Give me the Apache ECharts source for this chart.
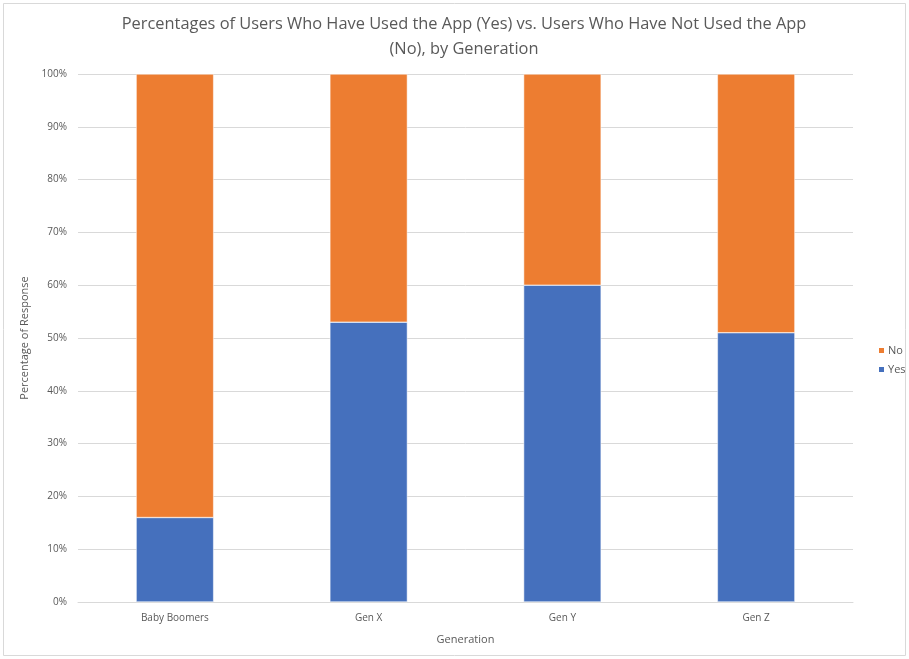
<!DOCTYPE html>
<html>
<head>
<meta charset="utf-8">
<script src="https://cdn.jsdelivr.net/npm/echarts@6/dist/echarts.min.js"></script>
<style>
  html, body { margin: 0; padding: 0; background: #fff; }
  #chart { width: 909px; height: 659px; }
</style>
</head>
<body>
<div id="chart"></div>
<script>
// Survey results: share of respondents per generation
const generations = ['Baby Boomers', 'Gen X', 'Gen Y', 'Gen Z'];
const yesValues = [16, 53, 60, 51];
const noValues = [84, 47, 40, 49];
const yTicks = [0, 10, 20, 30, 40, 50, 60, 70, 80, 90, 100];

const textColor = '#595959';
const fontFamily = 'Open Sans, Liberation Sans, sans-serif';

const chart = echarts.init(document.getElementById('chart'), null, { renderer: 'canvas' });

chart.setOption({
  backgroundColor: '#fff',
  animation: false,
  textStyle: { fontFamily: fontFamily },
  title: {
    text: 'Percentages of Users Who Have Used the App (Yes) vs. Users Who Have Not Used the App\n(No), by Generation',
    left: 459,
    top: 7,
    textAlign: 'center',
    textStyle: {
      color: textColor,
      fontSize: 16.4,
      fontWeight: 'normal',
      lineHeight: 25,
      fontFamily: fontFamily
    }
  },
  legend: {
    orient: 'vertical',
    left: 872,
    top: 340,
    itemWidth: 7,
    itemHeight: 7,
    itemGap: 8,
    icon: 'rect',
    data: ['No', 'Yes'],
    textStyle: { color: textColor, fontSize: 11, padding: [0, 0, 0, -2] }
  },
  grid: {
    left: 78,
    right: 56,
    top: 74,
    bottom: 57,
    containLabel: false
  },
  xAxis: {
    type: 'category',
    data: generations,
    name: 'Generation',
    nameLocation: 'middle',
    nameGap: 32,
    nameTextStyle: { color: textColor, fontSize: 11 },
    axisLine: { lineStyle: { color: '#d9d9d9' } },
    axisTick: { show: false },
    axisLabel: { color: textColor, fontSize: 10, margin: 11 }
  },
  yAxis: {
    type: 'value',
    min: 0,
    max: 100,
    interval: 10,
    name: 'Percentage of Response',
    nameLocation: 'middle',
    nameGap: 44,
    nameTextStyle: { color: textColor, fontSize: 11 },
    axisLine: { show: false },
    axisTick: { show: false },
    splitLine: { lineStyle: { color: '#d9d9d9', width: 1 } },
    axisLabel: {
      color: textColor,
      fontSize: 10,
      margin: 11,
      formatter: function (v) { return yTicks.indexOf(v) >= 0 ? v + '%' : ''; }
    }
  },
  series: [
    {
      name: 'Yes',
      type: 'bar',
      stack: 'total',
      barWidth: '40%',
      data: yesValues,
      itemStyle: { color: '#4570BD', borderColor: '#ffffff', borderWidth: 0.5 }
    },
    {
      name: 'No',
      type: 'bar',
      stack: 'total',
      barWidth: '40%',
      data: noValues,
      itemStyle: { color: '#ED7D31', borderColor: '#ffffff', borderWidth: 0.5 }
    }
  ],
  graphic: [
    {
      type: 'rect',
      shape: { x: 3.5, y: 3.5, width: 902, height: 652 },
      style: { fill: 'none', stroke: '#d9d9d9', lineWidth: 1 },
      silent: true
    }
  ]
});
</script>
</body>
</html>
